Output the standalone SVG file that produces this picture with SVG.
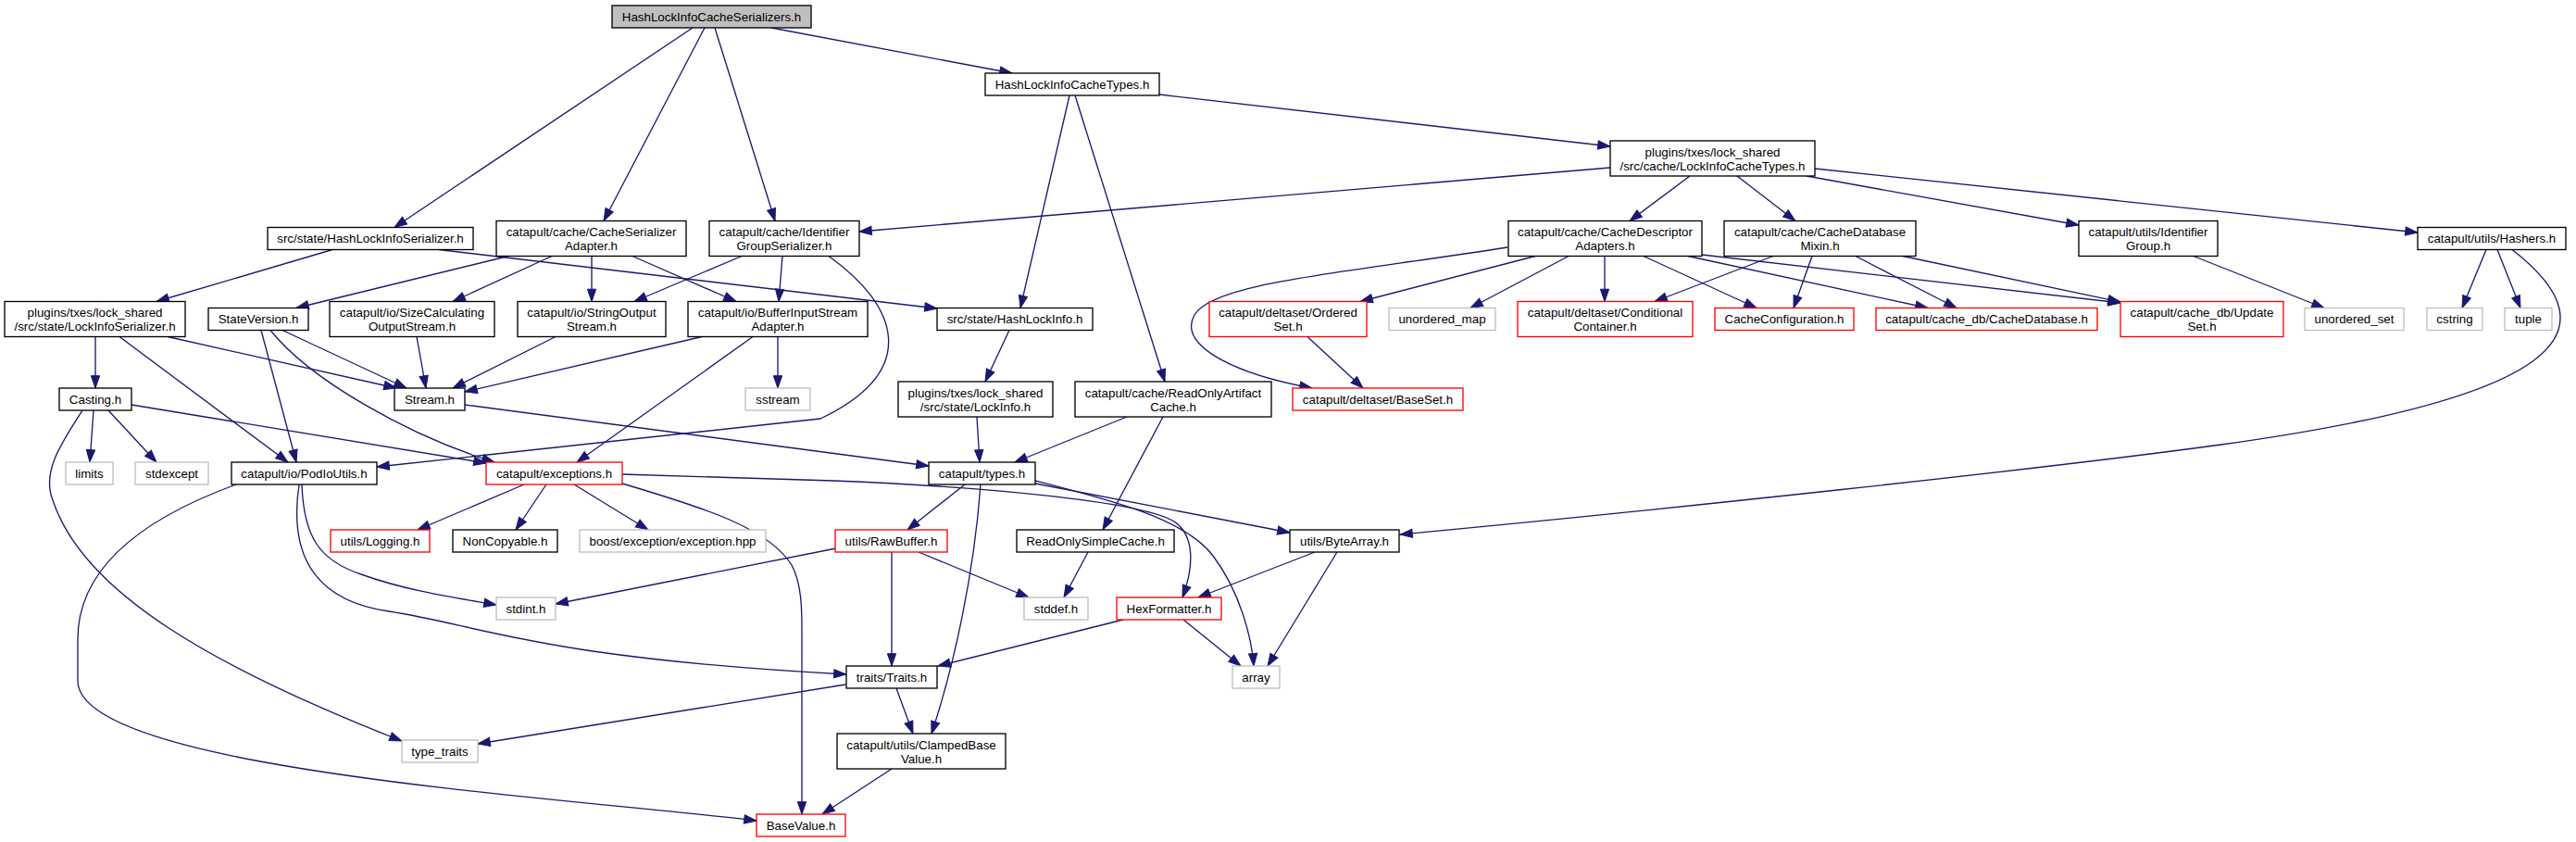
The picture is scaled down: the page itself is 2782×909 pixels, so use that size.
<svg xmlns="http://www.w3.org/2000/svg" width="2782" height="909" viewBox="0 0 2782 909">
<defs>
<style>
rect{stroke-width:1.33}
.k{fill:#fff;stroke:#000}
.r{fill:#fff;stroke:#ff0000}
.g{fill:#fff;stroke:#bfbfbf}
.root{fill:#bfbfbf;stroke:#000}
text{font-family:"Liberation Sans",Arial,Helvetica,sans-serif;font-size:13.33px;text-anchor:middle;fill:#000}
#edges path{fill:none;stroke:#191970;stroke-width:1.33;marker-end:url(#a)}
</style>
<marker id="a" markerUnits="userSpaceOnUse" markerWidth="16" markerHeight="12" refX="13.3" refY="4.65" orient="auto" overflow="visible">
<path d="M0,0 L13.3,4.65 L0,9.3 z" fill="#191970" stroke="#191970" stroke-width="1"/>
</marker>
</defs>
<rect x="0" y="0" width="2782" height="909" fill="#fff"/>
<g id="edges">
<path d="M748,30 L426,245.5"/>
<path d="M761,30 L652,238.5"/>
<path d="M772,30 L837,238.5"/>
<path d="M833,30 L1093,79"/>
<path d="M359,269.5 L169,325.5"/>
<path d="M474,269.5 L1012,333"/>
<path d="M549,276.5 L320,332.5"/>
<path d="M596,276.5 L489,325.5"/>
<path d="M639,276.5 L639,325.5"/>
<path d="M683,276.5 L795,325.5"/>
<path d="M801,276.5 L685,325.5"/>
<path d="M845,276.5 L841,325.5"/>
<path d="M895,276.5 C970,330 995,400 886,452 L407,504"/>
<path d="M103,363.5 L103,419"/>
<path d="M181,363.5 L428,419"/>
<path d="M129,363.5 L311,499"/>
<path d="M305,356.5 L439,419"/>
<path d="M282,356.5 L320,499"/>
<path d="M292,356.5 C335,410 440,470 534,499"/>
<path d="M450,363.5 L460,419"/>
<path d="M600,363.5 L489,419"/>
<path d="M758,363.5 L502,423"/>
<path d="M840,363.5 L840,419"/>
<path d="M813,363.5 L623,499"/>
<path d="M101,443 L97,499"/>
<path d="M117,443 L169,499"/>
<path d="M142,437 L525,500"/>
<path d="M89,443 C65,480 45,510 57,540 C90,640 230,720 434,800"/>
<path d="M502,437 L1003,503"/>
<path d="M255,523 C140,565 84,620 84,690 L84,735 C84,830 600,860 817,886"/>
<path d="M326,523 C328,580 345,605 390,620 C440,638 490,645 536,653"/>
<path d="M323,523 C310,610 350,650 420,660 C520,675 580,710 914,728"/>
<path d="M566,523 L451,572"/>
<path d="M590,523 L557,572"/>
<path d="M620,523 L700,572"/>
<path d="M672,522 C760,548 830,570 855,610 C866,630 866,660 866,680 L866,879"/>
<path d="M672,512 L900,519 C1050,525 1230,540 1268,563 C1290,578 1290,610 1277,645"/>
<path d="M1155,103 L1102,332.5"/>
<path d="M1161,103 L1258,412"/>
<path d="M1252,102 L1739,158"/>
<path d="M1739,181 L928,250"/>
<path d="M1825,190 L1760,238.5"/>
<path d="M1876,190 L1939,238.5"/>
<path d="M1951,190 L2245,243"/>
<path d="M1960,182 L2611,251"/>
<path d="M1090,356.5 L1064,412"/>
<path d="M1055,450 L1058,499"/>
<path d="M1217,450 L1096,499"/>
<path d="M1256,450 L1191,572"/>
<path d="M1628,267 C1450,295 1310,305 1290,340 C1270,375 1340,405 1417,419"/>
<path d="M1658,276.5 L1469,325.5"/>
<path d="M1694,276.5 L1588,332.5"/>
<path d="M1733,276.5 L1733,325.5"/>
<path d="M1775,276.5 L1897,332.5"/>
<path d="M1823,276.5 L2082,332.5"/>
<path d="M1838,275 L2290,327"/>
<path d="M1915,276.5 L1787,325.5"/>
<path d="M1957,276.5 L1937,332.5"/>
<path d="M2004,276.5 L2113,332.5"/>
<path d="M2055,276.5 L2290,326"/>
<path d="M1412,363.5 L1472,419"/>
<path d="M2369,276.5 L2510,332.5"/>
<path d="M2685,269.5 L2659,332.5"/>
<path d="M2697,269.5 L2722,332.5"/>
<path d="M2713,269.5 C2830,360 2760,430 2399,480 C2200,507 1800,550 1512,577"/>
<path d="M1042,523 L980,572"/>
<path d="M1059,523 C1052,620 1030,720 1006,792"/>
<path d="M1118,522 L1393,575"/>
<path d="M1118,519 C1200,540 1280,560 1310,600 C1340,640 1352,690 1354,719"/>
<path d="M903,592 L600,652"/>
<path d="M992,596 L1111,645"/>
<path d="M963,596 L963,719"/>
<path d="M1175,596 L1149,645"/>
<path d="M1420,596 L1294,645"/>
<path d="M1444,596 L1369,719"/>
<path d="M1213,669 L1013,719"/>
<path d="M1278,669 L1340,719"/>
<path d="M913,739 L516,803"/>
<path d="M968,743 L986,792"/>
<path d="M963,830 L888,879"/>
</g>
<g id="n_root"><rect class="root" x="661" y="6" width="215" height="24"/><text x="768.5" y="22.8">HashLockInfoCacheSerializers.h</text></g>
<g id="n_hlict"><rect class="k" x="1064" y="79" width="188" height="24"/><text x="1158" y="95.8">HashLockInfoCacheTypes.h</text></g>
<g id="n_lict"><rect class="k" x="1739" y="152" width="221" height="38"/><text x="1849.5" y="168.5">plugins/txes/lock_shared</text><text x="1849.5" y="183.5">/src/cache/LockInfoCacheTypes.h</text></g>
<g id="n_hlis"><rect class="k" x="289" y="245.5" width="222" height="24"/><text x="400" y="262.3">src/state/HashLockInfoSerializer.h</text></g>
<g id="n_csa"><rect class="k" x="536" y="238.5" width="205" height="38"/><text x="638.5" y="255">catapult/cache/CacheSerializer</text><text x="638.5" y="270">Adapter.h</text></g>
<g id="n_igs"><rect class="k" x="766" y="238.5" width="162" height="38"/><text x="847" y="255">catapult/cache/Identifier</text><text x="847" y="270">GroupSerializer.h</text></g>
<g id="n_cda"><rect class="k" x="1629" y="238.5" width="209" height="38"/><text x="1733.5" y="255">catapult/cache/CacheDescriptor</text><text x="1733.5" y="270">Adapters.h</text></g>
<g id="n_cdm"><rect class="k" x="1862" y="238.5" width="207" height="38"/><text x="1965.5" y="255">catapult/cache/CacheDatabase</text><text x="1965.5" y="270">Mixin.h</text></g>
<g id="n_ig"><rect class="k" x="2245" y="238.5" width="150" height="38"/><text x="2320" y="255">catapult/utils/Identifier</text><text x="2320" y="270">Group.h</text></g>
<g id="n_hashers"><rect class="k" x="2611" y="245.5" width="160" height="24"/><text x="2691" y="262.3">catapult/utils/Hashers.h</text></g>
<g id="n_lis"><rect class="k" x="5" y="325.5" width="195" height="38"/><text x="102.5" y="342">plugins/txes/lock_shared</text><text x="102.5" y="357">/src/state/LockInfoSerializer.h</text></g>
<g id="n_sv"><rect class="k" x="225" y="332.5" width="108" height="24"/><text x="279" y="349.3">StateVersion.h</text></g>
<g id="n_scos"><rect class="k" x="356" y="325.5" width="178" height="38"/><text x="445" y="342">catapult/io/SizeCalculating</text><text x="445" y="357">OutputStream.h</text></g>
<g id="n_sos"><rect class="k" x="559" y="325.5" width="160" height="38"/><text x="639" y="342">catapult/io/StringOutput</text><text x="639" y="357">Stream.h</text></g>
<g id="n_bisa"><rect class="k" x="743" y="325.5" width="194" height="38"/><text x="840" y="342">catapult/io/BufferInputStream</text><text x="840" y="357">Adapter.h</text></g>
<g id="n_hli"><rect class="k" x="1012" y="332.5" width="168" height="24"/><text x="1096" y="349.3">src/state/HashLockInfo.h</text></g>
<g id="n_os"><rect class="r" x="1306" y="325.5" width="170" height="38"/><text x="1391" y="342">catapult/deltaset/Ordered</text><text x="1391" y="357">Set.h</text></g>
<g id="n_um"><rect class="g" x="1500" y="332.5" width="115" height="24"/><text x="1557.5" y="349.3">unordered_map</text></g>
<g id="n_cc"><rect class="r" x="1639" y="325.5" width="189" height="38"/><text x="1733.5" y="342">catapult/deltaset/Conditional</text><text x="1733.5" y="357">Container.h</text></g>
<g id="n_ccfg"><rect class="r" x="1852" y="332.5" width="150" height="24"/><text x="1927" y="349.3">CacheConfiguration.h</text></g>
<g id="n_cdb"><rect class="r" x="2026" y="332.5" width="239" height="24"/><text x="2145.5" y="349.3">catapult/cache_db/CacheDatabase.h</text></g>
<g id="n_us"><rect class="r" x="2290" y="325.5" width="176" height="38"/><text x="2378" y="342">catapult/cache_db/Update</text><text x="2378" y="357">Set.h</text></g>
<g id="n_uset"><rect class="g" x="2489" y="332.5" width="107" height="24"/><text x="2542.5" y="349.3">unordered_set</text></g>
<g id="n_cstring"><rect class="g" x="2621" y="332.5" width="60" height="24"/><text x="2651" y="349.3">cstring</text></g>
<g id="n_tuple"><rect class="g" x="2705" y="332.5" width="51" height="24"/><text x="2730.5" y="349.3">tuple</text></g>
<g id="n_casting"><rect class="k" x="64" y="419" width="78" height="24"/><text x="103" y="435.8">Casting.h</text></g>
<g id="n_stream"><rect class="k" x="426" y="419" width="76" height="24"/><text x="464" y="435.8">Stream.h</text></g>
<g id="n_sstream"><rect class="g" x="805" y="419" width="70" height="24"/><text x="840" y="435.8">sstream</text></g>
<g id="n_li"><rect class="k" x="970" y="412" width="167" height="38"/><text x="1053.5" y="428.5">plugins/txes/lock_shared</text><text x="1053.5" y="443.5">/src/state/LockInfo.h</text></g>
<g id="n_roac"><rect class="k" x="1161" y="412" width="212" height="38"/><text x="1267" y="428.5">catapult/cache/ReadOnlyArtifact</text><text x="1267" y="443.5">Cache.h</text></g>
<g id="n_baseset"><rect class="r" x="1396" y="419" width="184" height="24"/><text x="1488" y="435.8">catapult/deltaset/BaseSet.h</text></g>
<g id="n_limits"><rect class="g" x="71" y="499" width="51" height="24"/><text x="96.5" y="515.8">limits</text></g>
<g id="n_stdexcept"><rect class="g" x="146" y="499" width="79" height="24"/><text x="185.5" y="515.8">stdexcept</text></g>
<g id="n_podio"><rect class="k" x="250" y="499" width="157" height="24"/><text x="328.5" y="515.8">catapult/io/PodIoUtils.h</text></g>
<g id="n_exc"><rect class="r" x="525" y="499" width="147" height="24"/><text x="598.5" y="515.8">catapult/exceptions.h</text></g>
<g id="n_types"><rect class="k" x="1003" y="499" width="115" height="24"/><text x="1060.5" y="515.8">catapult/types.h</text></g>
<g id="n_logging"><rect class="r" x="357" y="572" width="107" height="24"/><text x="410.5" y="588.8">utils/Logging.h</text></g>
<g id="n_noncopy"><rect class="k" x="489" y="572" width="113" height="24"/><text x="545.5" y="588.8">NonCopyable.h</text></g>
<g id="n_boost"><rect class="g" x="626" y="572" width="201" height="24"/><text x="726.5" y="588.8">boost/exception/exception.hpp</text></g>
<g id="n_rawbuf"><rect class="r" x="902" y="572" width="121" height="24"/><text x="962.5" y="588.8">utils/RawBuffer.h</text></g>
<g id="n_rosc"><rect class="k" x="1098" y="572" width="170" height="24"/><text x="1183" y="588.8">ReadOnlySimpleCache.h</text></g>
<g id="n_bytearr"><rect class="k" x="1393" y="572" width="118" height="24"/><text x="1452" y="588.8">utils/ByteArray.h</text></g>
<g id="n_stdint"><rect class="g" x="536" y="645" width="64" height="24"/><text x="568" y="661.8">stdint.h</text></g>
<g id="n_stddef"><rect class="g" x="1106" y="645" width="69" height="24"/><text x="1140.5" y="661.8">stddef.h</text></g>
<g id="n_hexfmt"><rect class="r" x="1206" y="645" width="113" height="24"/><text x="1262.5" y="661.8">HexFormatter.h</text></g>
<g id="n_traits"><rect class="k" x="914" y="719" width="98" height="24"/><text x="963" y="735.8">traits/Traits.h</text></g>
<g id="n_array"><rect class="g" x="1331" y="719" width="51" height="24"/><text x="1356.5" y="735.8">array</text></g>
<g id="n_typetraits"><rect class="g" x="434" y="799" width="82" height="24"/><text x="475" y="815.8">type_traits</text></g>
<g id="n_cbv"><rect class="k" x="904" y="792" width="182" height="38"/><text x="995" y="808.5">catapult/utils/ClampedBase</text><text x="995" y="823.5">Value.h</text></g>
<g id="n_basevalue"><rect class="r" x="817" y="879" width="96" height="24"/><text x="865" y="895.8">BaseValue.h</text></g>
</svg>
